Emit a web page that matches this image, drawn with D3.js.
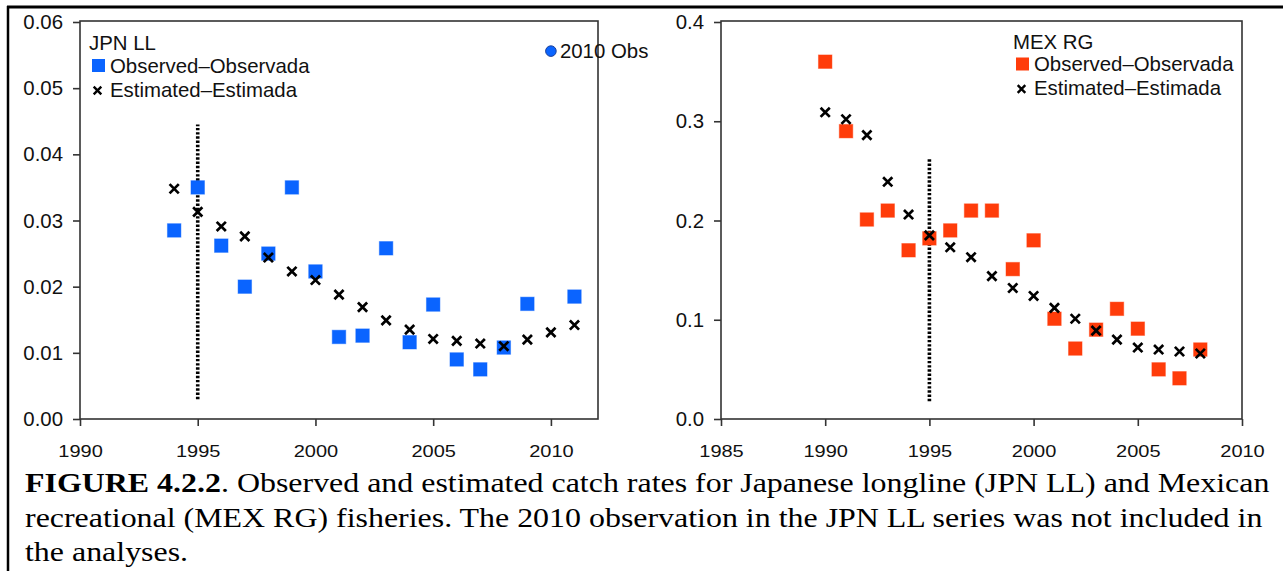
<!DOCTYPE html>
<html>
<head>
<meta charset="utf-8">
<script src="https://cdn.jsdelivr.net/npm/d3@7"></script>
<style>
  html, body { margin: 0; padding: 0; background: #fff; }
  svg { display: block; }
</style>
</head>
<body>
<svg id="chart" width="1283" height="571"></svg>
<script>
// ---------- DATA ----------
const jpnObsYears = [1994,1995,1996,1997,1998,1999,2000,2001,2002,2003,2004,2005,2006,2007,2008,2009,2011];
const jpnObs      = [0.0285,0.0350,0.0262,0.0200,0.0250,0.0350,0.0223,0.0124,0.0126,0.0258,0.0116,0.0173,0.0090,0.0075,0.0108,0.0174,0.0185];
const jpnObs2010Year = 2010;
const jpnObs2010Value = 0.0556;
const jpnEstYears = [1994,1995,1996,1997,1998,1999,2000,2001,2002,2003,2004,2005,2006,2007,2008,2009,2010,2011];
const jpnEst      = [0.0348,0.0313,0.0291,0.0276,0.0244,0.0223,0.0210,0.0188,0.0169,0.0149,0.0135,0.0121,0.0118,0.0114,0.0110,0.0120,0.0131,0.0142];
const jpnCut = [1995, 0.003, 0.0445];

const mexYears = [1990,1991,1992,1993,1994,1995,1996,1997,1998,1999,2000,2001,2002,2003,2004,2005,2006,2007,2008];
const mexObs   = [0.360,0.290,0.201,0.210,0.170,0.182,0.190,0.210,0.210,0.151,0.180,0.101,0.071,0.090,0.111,0.091,0.050,0.041,0.070];
const mexEst   = [0.309,0.302,0.286,0.239,0.206,0.185,0.173,0.163,0.144,0.132,0.124,0.112,0.101,0.089,0.080,0.072,0.070,0.068,0.066];
const mexCut = [1995, 0.018, 0.263];

const jpnXTicks = [1990,1995,2000,2005,2010];
const jpnYTicks = [0.00,0.01,0.02,0.03,0.04,0.05,0.06];
const mexXTicks = [1985,1990,1995,2000,2005,2010];
const mexYTicks = [0.0,0.1,0.2,0.3,0.4];

const legendObs = "Observed\u2013Observada";
const legendEst = "Estimated\u2013Estimada";
const captionBold = "FIGURE 4.2.2";
const captionLines = [
  ". Observed and estimated catch rates for Japanese longline (JPN LL) and Mexican",
  "recreational (MEX RG) fisheries. The 2010 observation in the JPN LL series was not included in",
  "the analyses."
];

// ---------- STYLE ----------
const BLUE = "#0a64ff";
const RED = "#ff3c0a";
const SANS = "'Liberation Sans', Arial, sans-serif";
const SERIF = "'Liberation Serif', 'Times New Roman', serif";
const FS = 20.4;

const svg = d3.select("#chart");
svg.append("rect").attr("width", 1283).attr("height", 571).attr("fill", "#fff");

// outer border (top + left)
svg.append("line").attr("x1", 7).attr("x2", 1283).attr("y1", 7).attr("y2", 7)
  .attr("stroke", "#000").attr("stroke-width", 3);
svg.append("line").attr("x1", 8).attr("x2", 8).attr("y1", 6).attr("y2", 571)
  .attr("stroke", "#000").attr("stroke-width", 2.5);

function panel(cfg) {
  const x = d3.scaleLinear().domain(cfg.xDomain).range([cfg.left, cfg.right]);
  const y = d3.scaleLinear().domain(cfg.yDomain).range([cfg.bottom, cfg.top]);
  const g = svg.append("g");

  // frame
  g.append("rect")
    .attr("x", cfg.left).attr("y", cfg.top - 1)
    .attr("width", cfg.right - cfg.left).attr("height", cfg.bottom - cfg.top + 1)
    .attr("fill", "none").attr("stroke", "#333").attr("stroke-width", 1.6);

  // y axis
  const ya = g.append("g").attr("transform", `translate(${cfg.left},0)`)
    .call(d3.axisLeft(y).tickValues(cfg.yTicks).tickFormat(d3.format(cfg.yFmt)).tickSize(7).tickPadding(10));
  ya.select(".domain").remove();
  ya.selectAll("line").attr("stroke", "#333").attr("stroke-width", 1.6);
  ya.selectAll("text").attr("font-family", SANS).attr("font-size", FS).attr("fill", "#111");

  // x axis
  const xa = g.append("g").attr("transform", `translate(0,${cfg.bottom})`)
    .call(d3.axisBottom(x).tickValues(cfg.xTicks).tickFormat(d3.format("d")).tickSize(7).tickPadding(10));
  xa.select(".domain").remove();
  xa.selectAll("line").attr("stroke", "#333").attr("stroke-width", 1.6);
  xa.selectAll("text").attr("font-family", SANS).attr("font-size", 20).attr("fill", "#111")
    .attr("dy", 0).attr("y", 47.5).attr("transform", "scale(1,0.8)");

  // cut line (dotted)
  g.append("line")
    .attr("x1", x(cfg.cut[0])).attr("x2", x(cfg.cut[0]))
    .attr("y1", y(cfg.cut[1])).attr("y2", y(cfg.cut[2]))
    .attr("stroke", "#000").attr("stroke-width", 3.6).attr("stroke-dasharray", "2.4,1.8");

  // observed squares
  const s = 13.5;
  g.append("g").selectAll("rect").data(cfg.obsYears.map((yr, i) => [yr, cfg.obs[i]]))
    .join("rect")
    .attr("x", d => x(d[0]) - s / 2).attr("y", d => y(d[1]) - s / 2)
    .attr("width", s).attr("height", s)
    .attr("fill", cfg.color).attr("stroke", cfg.color).attr("stroke-opacity", 0.45).attr("stroke-width", 1);

  // estimated crosses
  const h = 4.6;
  g.append("g").selectAll("path").data(cfg.estYears.map((yr, i) => [yr, cfg.est[i]]))
    .join("path")
    .attr("d", d => {
      const cx = x(d[0]), cy = y(d[1]);
      return `M${cx - h},${cy - h}L${cx + h},${cy + h}M${cx - h},${cy + h}L${cx + h},${cy - h}`;
    })
    .attr("stroke", "#000").attr("stroke-width", 2.7).attr("fill", "none");

  // legend
  const L = cfg.legend;
  g.append("text").attr("x", L.x).attr("y", L.y).text(cfg.name)
    .attr("font-family", SANS).attr("font-size", FS).attr("fill", "#111");
  g.append("rect").attr("x", L.x + 3).attr("y", L.y + 9).attr("width", 13).attr("height", 13)
    .attr("fill", cfg.color);
  g.append("text").attr("x", L.x + 21).attr("y", L.y + 22.5).text(legendObs)
    .attr("font-family", SANS).attr("font-size", FS).attr("fill", "#111");
  const lx = L.x + 8.5, ly = L.y + 40.5, lh = 3.8;
  g.append("path")
    .attr("d", `M${lx - lh},${ly - lh}L${lx + lh},${ly + lh}M${lx - lh},${ly + lh}L${lx + lh},${ly - lh}`)
    .attr("stroke", "#000").attr("stroke-width", 2.4);
  g.append("text").attr("x", L.x + 21).attr("y", L.y + 46.5).text(legendEst)
    .attr("font-family", SANS).attr("font-size", FS).attr("fill", "#111");

  return { g, x, y };
}

const left = panel({
  name: "JPN LL", color: BLUE,
  left: 80, right: 598, top: 22, bottom: 419,
  xDomain: [1990, 2012], yDomain: [0, 0.06],
  xTicks: jpnXTicks, yTicks: jpnYTicks, yFmt: ".2f",
  obsYears: jpnObsYears, obs: jpnObs, estYears: jpnEstYears, est: jpnEst,
  cut: jpnCut,
  legend: { x: 89, y: 50 }
});

// 2010 observation (excluded) as circle
left.g.append("circle")
  .attr("cx", left.x(jpnObs2010Year)).attr("cy", left.y(jpnObs2010Value)).attr("r", 5.3)
  .attr("fill", BLUE).attr("stroke", "#1a3f9a").attr("stroke-width", 1);
left.g.append("text")
  .attr("x", left.x(jpnObs2010Year) + 9).attr("y", left.y(jpnObs2010Value) + 7)
  .text(jpnObs2010Year + " Obs")
  .attr("font-family", SANS).attr("font-size", FS).attr("fill", "#111");

panel({
  name: "MEX RG", color: RED,
  left: 721, right: 1242, top: 22, bottom: 419,
  xDomain: [1985, 2010], yDomain: [0, 0.4],
  xTicks: mexXTicks, yTicks: mexYTicks, yFmt: ".1f",
  obsYears: mexYears, obs: mexObs, estYears: mexYears, est: mexEst,
  cut: mexCut,
  legend: { x: 1013, y: 48.5 }
});

// ---------- CAPTION ----------
const capX = 25;
const baselines = [492, 526.5, 561];
const targetW = 1245;
const capFs = 28;
const cap = svg.append("g").attr("fill", "#000");
const t0 = cap.append("text").attr("x", 0).attr("y", 0)
  .attr("font-family", SERIF).attr("font-size", capFs);
t0.append("tspan").attr("font-weight", "bold").text(captionBold);
t0.append("tspan").text(captionLines[0]);
const w0 = t0.node().getComputedTextLength();
const sx = targetW / w0;
t0.attr("transform", `translate(${capX},${baselines[0]}) scale(${sx},1)`);
captionLines.slice(1).forEach((ln, i) => {
  cap.append("text").attr("x", 0).attr("y", 0)
    .attr("font-family", SERIF).attr("font-size", capFs)
    .attr("transform", `translate(${capX},${baselines[i + 1]}) scale(${sx},1)`)
    .text(ln);
});
</script>
</body>
</html>
